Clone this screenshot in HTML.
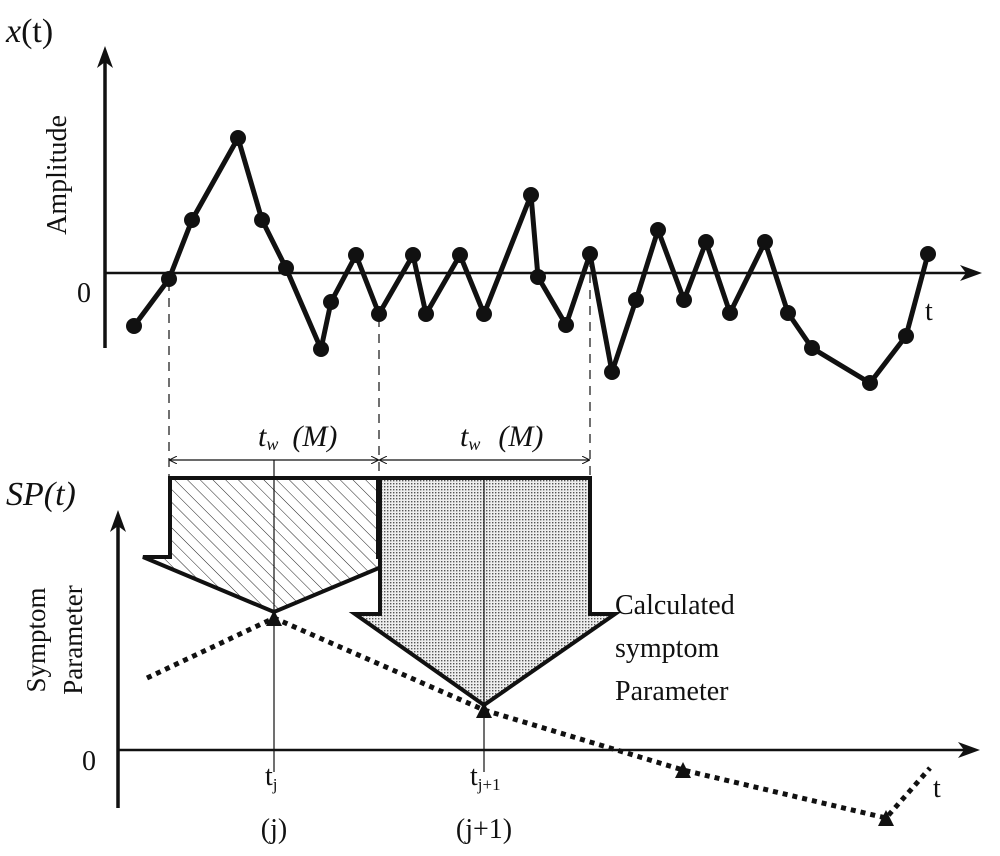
<!DOCTYPE html>
<html><head><meta charset="utf-8">
<style>
html,body{margin:0;padding:0;background:#fff;}
svg{display:block;}
text{font-family:"Liberation Serif",serif;fill:#111;}
</style></head>
<body>
<svg id="chart" width="1000" height="856" viewBox="0 0 1000 856" xmlns="http://www.w3.org/2000/svg">
<defs>
<pattern id="hatch" patternUnits="userSpaceOnUse" width="9" height="9" patternTransform="rotate(-45)">
<line x1="0" y1="0" x2="0" y2="9" stroke="#222" stroke-width="1"/>
</pattern>
<pattern id="dots" patternUnits="userSpaceOnUse" width="3" height="3">
<rect width="3" height="3" fill="#eee"/>
<rect x="0" y="0" width="1.4" height="1.4" fill="#555"/>
</pattern>
<marker id="arr" viewBox="0 0 10 10" refX="9" refY="5" markerWidth="8" markerHeight="8" orient="auto-start-reverse" markerUnits="userSpaceOnUse">
<path d="M0,0 L10,5 L0,10" fill="none" stroke="#111" stroke-width="1.3"/>
</marker>
</defs>

<line x1="105" y1="348" x2="105" y2="56" stroke="#111" stroke-width="3.5"/>
<path d="M97,68 L105,46 L113,68 L105,62 Z" fill="#111"/>
<line x1="105" y1="273" x2="970" y2="273" stroke="#111" stroke-width="2.5"/>
<path d="M960,265 L982,273 L960,281 L966,273 Z" fill="#111"/>
<text x="6" y="42" font-size="34"><tspan font-style="italic">x</tspan>(t)</text>
<text transform="translate(66,175) rotate(-90)" text-anchor="middle" font-size="28" fill="#222">Amplitude</text>
<text x="77" y="302" font-size="28">0</text>
<text x="925" y="320" font-size="28">t</text>
<g id="topSeries"></g>

<g stroke="#111" stroke-width="1.2" stroke-dasharray="9,7" fill="none">
<line x1="169" y1="282" x2="169" y2="478"/>
<line x1="379" y1="318" x2="379" y2="478"/>
<line x1="590" y1="258" x2="590" y2="478"/>
</g>
<line x1="170" y1="460" x2="378" y2="460" stroke="#111" stroke-width="1.3" marker-start="url(#arr)" marker-end="url(#arr)"/>
<line x1="380" y1="460" x2="589" y2="460" stroke="#111" stroke-width="1.3" marker-start="url(#arr)" marker-end="url(#arr)"/>
<line x1="274" y1="460" x2="274" y2="478" stroke="#111" stroke-width="1.2"/>
<text x="258" y="446" font-size="30" font-style="italic">t<tspan font-size="18" dy="4">w</tspan><tspan dy="-4" dx="14">(M)</tspan></text>
<text x="460" y="446" font-size="30" font-style="italic">t<tspan font-size="18" dy="4">w</tspan><tspan dy="-4" dx="18">(M)</tspan></text>

<path d="M170,478 L378,478 L378,557 L405,557 L274,612 L143,557 L170,557 Z" fill="url(#hatch)" stroke="#111" stroke-width="4" stroke-linejoin="miter"/>
<path d="M380,478 L590,478 L590,614 L615,614 L484,705 L355,614 L380,614 Z" fill="url(#dots)" stroke="#111" stroke-width="4" stroke-linejoin="miter"/>

<line x1="274" y1="478" x2="274" y2="772" stroke="#111" stroke-width="1.2"/>
<line x1="484" y1="478" x2="484" y2="772" stroke="#111" stroke-width="1.2"/>

<line x1="118" y1="808" x2="118" y2="522" stroke="#111" stroke-width="3.5"/>
<path d="M110,532 L118,510 L126,532 L118,526 Z" fill="#111"/>
<line x1="118" y1="750" x2="968" y2="750" stroke="#111" stroke-width="2.5"/>
<path d="M958,742 L980,750 L958,758 L964,750 Z" fill="#111"/>
<text x="6" y="505" font-size="34" font-style="italic">SP(t)</text>
<text transform="translate(45,640) rotate(-90)" text-anchor="middle" font-size="27" fill="#222">Symptom</text>
<text transform="translate(82,640) rotate(-90)" text-anchor="middle" font-size="27" fill="#222">Parameter</text>
<text x="82" y="770" font-size="28">0</text>
<text x="933" y="797" font-size="28">t</text>
<text x="265" y="785" font-size="28">t<tspan font-size="17" dy="5">j</tspan></text>
<text x="274" y="838" font-size="28" text-anchor="middle">(j)</text>
<text x="470" y="785" font-size="28">t<tspan font-size="17" dy="5">j+1</tspan></text>
<text x="484" y="838" font-size="28" text-anchor="middle">(j+1)</text>
<text x="615" y="614" font-size="28">Calculated</text>
<text x="615" y="657" font-size="28">symptom</text>
<text x="615" y="700" font-size="28">Parameter</text>
<g id="spSeries"></g>
</svg>
<script>
const sigT = [2.9,6.4,8.7,13.3,15.7,18.1,21.6,22.6,25.1,27.4,30.8,32.1,35.5,37.9,42.6,43.3,46.1,48.5,50.7,53.1,55.3,57.9,60.1,62.5,66.0,68.3,70.7,76.5,80.1,82.3];
const sigA = [-5.3,-0.6,5.3,13.5,5.3,0.5,-7.6,-2.9,1.8,-4.1,1.8,-4.1,1.8,-4.1,7.8,-0.4,-5.2,1.9,-9.9,-2.7,4.3,-2.7,3.1,-4.0,3.1,-4.0,-7.5,-11.0,-6.3,1.9];
const spT = [2.9,15.6,36.6,56.5,76.8,81.2];
const spV = [7.2,13.2,4.0,-2.0,-6.8,-1.8];
const spMarked = [0,1,1,1,1,0];

const xTop = t => 105 + t*10;
const yTop = a => 273 - a*10;
const xBot = t => 118 + t*10;
const yBot = v => 750 - v*10;
const NS = "http://www.w3.org/2000/svg";

const topG = document.getElementById('topSeries');
const sigLine = document.createElementNS(NS,'polyline');
sigLine.setAttribute('points', sigT.map((t,i)=>xTop(t)+','+yTop(sigA[i])).join(' '));
sigLine.setAttribute('fill','none');sigLine.setAttribute('stroke','#111');
sigLine.setAttribute('stroke-width','5');sigLine.setAttribute('stroke-linejoin','round');


topG.appendChild(sigLine);
sigT.forEach((t,i)=>{
  const c = document.createElementNS(NS,'circle');
  c.setAttribute('cx',xTop(t));c.setAttribute('cy',yTop(sigA[i]));c.setAttribute('r','8');c.setAttribute('fill','#111');
  
  
  topG.appendChild(c);
});

const spG = document.getElementById('spSeries');
const dl = document.createElementNS(NS,'polyline');
dl.setAttribute('points', spT.map((t,i)=>xBot(t)+','+yBot(spV[i])).join(' '));
dl.setAttribute('fill','none');dl.setAttribute('stroke','#111');
dl.setAttribute('stroke-width','5');dl.setAttribute('stroke-dasharray','5,5');


spG.appendChild(dl);
spT.forEach((t,i)=>{
  if(!spMarked[i]) return;
  const x = xBot(t), y = yBot(spV[i]);
  const p = document.createElementNS(NS,'path');
  p.setAttribute('d',`M${x-8},${y+8} L${x},${y-8} L${x+8},${y+8} Z`);
  p.setAttribute('fill','#111');
  
  
  spG.appendChild(p);
});
</script>
</body></html>
